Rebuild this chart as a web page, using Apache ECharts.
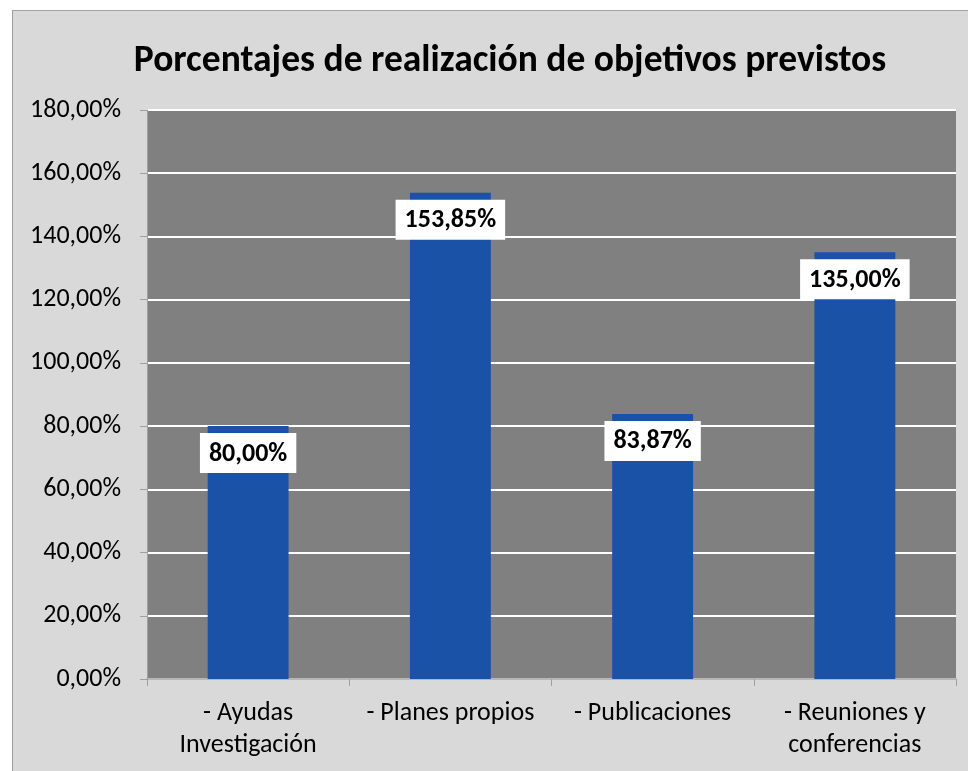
<!DOCTYPE html>
<html>
<head>
<meta charset="utf-8">
<script src="https://cdn.jsdelivr.net/npm/echarts@6/dist/echarts.min.js"></script>
<style>
  html, body { margin: 0; padding: 0; background: #ffffff; }
  #frame {
    position: absolute; left: 12px; top: 10px; width: 956px; height: 761px;
    background: #d9d9d9; border-left: 1px solid #a0a0a0; border-top: 1px solid #a0a0a0;
  }
  #chart { position: absolute; left: 0; top: 0; width: 968px; height: 771px; }
</style>
</head>
<body>
<div id="frame"></div>
<div id="chart"></div>
<script>
  const categories = ['- Ayudas\nInvestigación', '- Planes propios', '- Publicaciones', '- Reuniones y\nconferencias'];
  const values = [0.80, 1.5385, 0.8387, 1.35];
  const yTicks = { min: 0, max: 1.8, interval: 0.2 };

  const fontFamily = "Carlito, 'Liberation Sans', sans-serif";

  // formato español: coma decimal
  const pct = (v) => (v * 100).toFixed(2).replace('.', ',') + '%';

  const chart = echarts.init(document.getElementById('chart'));

  const option = {
    animation: false,
    textStyle: { fontFamily },
    title: {
      text: 'Porcentajes de realización de objetivos previstos',
      left: 505,
      top: 38,
      textAlign: 'center',
      textStyle: { fontFamily, fontSize: 37.5, fontWeight: 'bold', color: '#000' },
    },
    grid: { left: 147, top: 110, right: 12, bottom: 92 },
    xAxis: {
      type: 'category',
      data: categories,
      axisLine: { lineStyle: { color: '#a0a0a0', width: 1.5 } },
      axisTick: { show: true, length: 7, lineStyle: { color: '#a0a0a0' } },
      axisLabel: { color: '#000', fontSize: 26, margin: 18, lineHeight: 32, interval: 0 },
    },
    yAxis: {
      type: 'value',
      min: yTicks.min,
      max: yTicks.max,
      interval: yTicks.interval,
      axisLine: { show: true, lineStyle: { color: '#a0a0a0' } },
      axisTick: { show: true, length: 7, lineStyle: { color: '#a0a0a0' } },
      axisLabel: { color: '#000', fontSize: 26, margin: 26, formatter: pct },
      splitLine: { lineStyle: { color: '#ffffff', width: 2 } },
      splitArea: { show: true, areaStyle: { color: ['#808080'] } },
    },
    series: [
      {
        type: 'bar',
        data: values,
        barWidth: '40%',
        itemStyle: { color: '#1a52a8' },
        label: {
          show: true,
          position: 'insideTop',
          distance: 7,
          formatter: (p) => pct(p.value),
          backgroundColor: '#ffffff',
          padding: [6, 9, 4, 9],
          lineHeight: 30,
          color: '#000',
          fontSize: 26,
          fontWeight: 'bold',
          fontFamily,
        },
      },
    ],
  };

  chart.setOption(option);
</script>
</body>
</html>
